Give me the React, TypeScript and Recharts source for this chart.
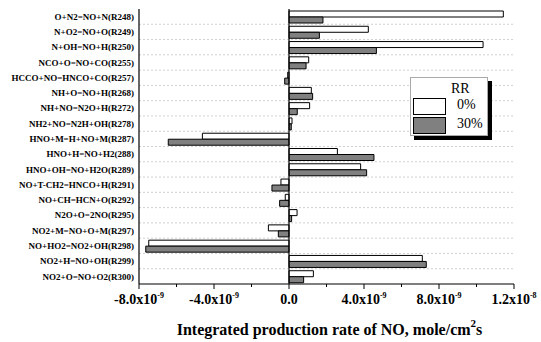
import React from "react";
import {
  BarChart,
  Bar,
  XAxis,
  YAxis,
  CartesianGrid,
  ReferenceLine,
} from "recharts";

const reactions = [
  "O+N2=NO+N(R248)",
  "N+O2=NO+O(R249)",
  "N+OH=NO+H(R250)",
  "NCO+O=NO+CO(R255)",
  "HCCO+NO=HNCO+CO(R257)",
  "NH+O=NO+H(R268)",
  "NH+NO=N2O+H(R272)",
  "NH2+NO=N2H+OH(R278)",
  "HNO+M=H+NO+M(R287)",
  "HNO+H=NO+H2(288)",
  "HNO+OH=NO+H2O(R289)",
  "NO+T-CH2=HNCO+H(R291)",
  "NO+CH=HCN+O(R292)",
  "N2O+O=2NO(R295)",
  "NO2+M=NO+O+M(R297)",
  "NO+HO2=NO2+OH(R298)",
  "NO2+H=NO+OH(R299)",
  "NO2+O=NO+O2(R300)",
];

// values in units of 1e-9 mole/cm2 s
const rr0 = [11.43, 4.23, 10.35, 1.05, -0.07, 1.19, 1.1, 0.16, -4.62, 2.58, 3.82, -0.43, -0.2, 0.43, -1.1, -7.48, 7.11, 1.3];
const rr30 = [1.81, 1.62, 4.66, 0.91, -0.23, 1.26, 0.44, 0.12, -6.44, 4.53, 4.14, -0.91, -0.5, 0.14, -0.57, -7.64, 7.32, 0.78];

const seriesNames = ["0%", "30%"];
const legendTitle = "RR";

const xTicks = [-8e-9, -6e-9, -4e-9, -2e-9, 0, 2e-9, 4e-9, 6e-9, 8e-9, 1e-8, 1.2e-8];
const majorLabels: Record<string, [string, string]> = {
  "-8e-9": ["-8.0x10", "-9"],
  "-4e-9": ["-4.0x10", "-9"],
  "0": ["0.0", ""],
  "4e-9": ["4.0x10", "-9"],
  "8e-9": ["8.0x10", "-9"],
  "1.2e-8": ["1.2x10", "-8"],
};

const data = reactions.map((name, i) => ({
  name,
  rr0: rr0[i] * 1e-9,
  rr30: rr30[i] * 1e-9,
}));

const FONT = "'Liberation Serif', 'Times New Roman', serif";

const XTick = (props: any) => {
  const { x, y, payload } = props;
  const key = String(payload.value);
  const lab = majorLabels[key];
  return (
    <g>
      <line x1={x} x2={x} y1={y} y2={y + (lab ? 5 : 3)} stroke="#000" strokeWidth={1} />
      {lab && (
        <text
          x={x}
          y={y + 20}
          textAnchor="middle"
          fontFamily={FONT}
          fontWeight="bold"
          fontSize={14}
          fill="#000"
        >
          <tspan>{lab[0]}</tspan>
          {lab[1] && (
            <tspan dy={-6} fontSize={8}>
              {lab[1]}
            </tspan>
          )}
        </text>
      )}
    </g>
  );
};

const YTick = (props: any) => {
  const { x, y, payload } = props;
  return (
    <text
      x={x}
      y={y}
      dy="0.35em"
      textAnchor="end"
      fontFamily={FONT}
      fontWeight="bold"
      fontSize={9}
      fill="#000"
    >
      {payload.value}
    </text>
  );
};

const XTitle = (props: any) => {
  const { viewBox } = props;
  const cx = viewBox.x + viewBox.width / 2 + 3;
  return (
    <text
      x={cx}
      y={viewBox.y + 51}
      textAnchor="middle"
      fontFamily={FONT}
      fontWeight="bold"
      fontSize={16}
      fill="#000"
    >
      <tspan>Integrated production rate of NO, mole/cm</tspan>
      <tspan dy={-8} fontSize={11}>2</tspan>
      <tspan dy={8}>s</tspan>
    </text>
  );
};

const LegendBox = () => (
  <div
    style={{
      position: "absolute",
      left: 410,
      top: 77,
      width: 76,
      height: 57,
      background: "#fff",
      border: "1px solid #aaa",
      boxShadow: "4px 4px 0 #000",
      fontFamily: FONT,
      boxSizing: "content-box",
    }}
  >
    <div style={{ position: "absolute", left: 40, top: 3, fontSize: 14, lineHeight: "16px" }}>{legendTitle}</div>
    <div
      style={{
        position: "absolute",
        left: 2,
        top: 20,
        width: 31,
        height: 15,
        background: "#fff",
        border: "1px solid #000",
      }}
    />
    <div style={{ position: "absolute", left: 46, top: 19, fontSize: 14, lineHeight: "16px" }}>{seriesNames[0]}</div>
    <div
      style={{
        position: "absolute",
        left: 2,
        top: 39,
        width: 31,
        height: 15,
        background: "#808080",
        border: "1px solid #000",
      }}
    />
    <div style={{ position: "absolute", left: 46, top: 38, fontSize: 14, lineHeight: "16px" }}>{seriesNames[1]}</div>
  </div>
);

export default function App() {
  return (
    <div style={{ position: "absolute", left: 0, top: 0, width: 541, height: 342, background: "#fff" }}>
      <BarChart
        width={541}
        height={342}
        data={data}
        layout="vertical"
        margin={{ top: 9, right: 27, bottom: 0, left: 0 }}
        barGap={0}
        barSize={6}
      >
        <CartesianGrid
          vertical={false}
          stroke="#d0d0d0"
          strokeDasharray="2 2"
          horizontalCoordinatesGenerator={({ offset }: any) => {
            const n = reactions.length;
            const out: number[] = [];
            for (let i = 1; i < n; i++) out.push(offset.top + (i * offset.height) / n);
            return out;
          }}
        />
        <XAxis
          xAxisId="main"
          type="number"
          domain={[-8e-9, 1.2e-8]}
          ticks={xTicks}
          interval={0}
          allowDataOverflow
          height={58}
          tickSize={0}
          tickMargin={0}
          tick={<XTick />}
          axisLine={{ stroke: "#000", strokeWidth: 1.2 }}
          label={<XTitle />}
        />
        <XAxis
          xAxisId="top"
          orientation="top"
          type="number"
          domain={[0, 1]}
          height={0}
          tick={false}
          tickLine={false}
          axisLine={{ stroke: "#000", strokeWidth: 1.2 }}
        />
        <YAxis
          yAxisId="main"
          type="category"
          dataKey="name"
          width={139}
          tickSize={0}
          tickMargin={5}
          interval={0}
          tick={<YTick />}
          axisLine={{ stroke: "#000", strokeWidth: 1.2 }}
        />
        <YAxis
          yAxisId="right"
          orientation="right"
          type="number"
          domain={[0, 1]}
          width={0}
          tick={false}
          tickLine={false}
          axisLine={{ stroke: "#000", strokeWidth: 1.2 }}
        />
        <ReferenceLine x={0} xAxisId="main" yAxisId="main" stroke="#000" strokeWidth={1.2} />
        <Bar
          dataKey="rr0"
          name={seriesNames[0]}
          xAxisId="main"
          yAxisId="main"
          fill="#ffffff"
          stroke="#000"
          strokeWidth={1}
          isAnimationActive={false}
        />
        <Bar
          dataKey="rr30"
          name={seriesNames[1]}
          xAxisId="main"
          yAxisId="main"
          fill="#808080"
          stroke="#000"
          strokeWidth={1}
          isAnimationActive={false}
        />
      </BarChart>
      <LegendBox />
    </div>
  );
}
